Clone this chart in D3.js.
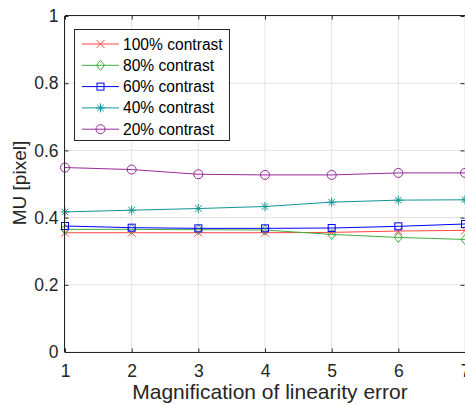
<!DOCTYPE html>
<html>
<head>
<meta charset="utf-8">
<script src="https://cdn.jsdelivr.net/npm/d3@7"></script>
<style>
  html, body { margin: 0; padding: 0; background: #fff; overflow: hidden; }
  svg { display: block; font-family: "Liberation Sans", Arial, sans-serif; }
</style>
</head>
<body>
<svg id="chart" width="465" height="405"></svg>
<script>
// Magnification factors on the x axis
const magnification = [1, 2, 3, 4, 5, 6, 7];

// MU per contrast level
const mu100 = [0.355, 0.355, 0.355, 0.355, 0.356, 0.360, 0.362];
const mu80  = [0.365, 0.365, 0.364, 0.363, 0.350, 0.341, 0.335];
const mu60  = [0.375, 0.370, 0.368, 0.368, 0.369, 0.374, 0.381];
const mu40  = [0.417, 0.422, 0.427, 0.433, 0.446, 0.452, 0.453];
const mu20  = [0.549, 0.543, 0.529, 0.527, 0.527, 0.533, 0.533];

const seriesNames = ["100% contrast", "80% contrast", "60% contrast", "40% contrast", "20% contrast"];
const xTicks = [1, 2, 3, 4, 5, 6, 7];
const yTicks = [0, 0.2, 0.4, 0.6, 0.8, 1];

const series = [
  { name: seriesNames[0], values: mu100, color: "#ff4545", marker: "x" },
  { name: seriesNames[1], values: mu80,  color: "#3fae3f", marker: "diamond" },
  { name: seriesNames[2], values: mu60,  color: "#0000ff", marker: "square" },
  { name: seriesNames[3], values: mu40,  color: "#139595", marker: "star" },
  { name: seriesNames[4], values: mu20,  color: "#9a2a9a", marker: "circle" }
];

const svg = d3.select("#chart");
const plotL = 65, plotR = 465, plotT = 16, plotB = 352;
const axisColor = "#262626";
const fontFam = "Liberation Sans, Arial, sans-serif";

const x = d3.scaleLinear().domain([1, 7]).range([plotL, plotR]);
const y = d3.scaleLinear().domain([0, 1]).range([plotB, plotT]);

// grid
const grid = svg.append("g");
grid.selectAll(".gx").data(xTicks).join("line")
  .attr("x1", d => x(d)).attr("x2", d => x(d))
  .attr("y1", plotT).attr("y2", plotB)
  .attr("stroke", "#e3e3e3").attr("stroke-width", 1);
grid.selectAll(".gy").data(yTicks).join("line")
  .attr("x1", plotL).attr("x2", plotR)
  .attr("y1", d => y(d)).attr("y2", d => y(d))
  .attr("stroke", "#e3e3e3").attr("stroke-width", 1);

// lines and markers
const line = d3.line().x((d, i) => x(magnification[i])).y(d => y(d));

function drawMarker(g, type, cx, cy, color) {
  const s = 4;
  if (type === "x") {
    g.append("path").attr("d", `M${cx - s},${cy - s}L${cx + s},${cy + s}M${cx - s},${cy + s}L${cx + s},${cy - s}`)
      .attr("stroke", color).attr("fill", "none").attr("stroke-width", 1);
  } else if (type === "diamond") {
    g.append("path").attr("d", `M${cx},${cy - 5}L${cx + 4},${cy}L${cx},${cy + 5}L${cx - 4},${cy}Z`)
      .attr("stroke", color).attr("fill", "none").attr("stroke-width", 1);
  } else if (type === "square") {
    g.append("rect").attr("x", cx - 3.5).attr("y", cy - 3.5).attr("width", 7).attr("height", 7)
      .attr("stroke", color).attr("fill", "none").attr("stroke-width", 1);
  } else if (type === "star") {
    const r = 4.5;
    let d = `M${cx - r},${cy}L${cx + r},${cy}M${cx},${cy - r}L${cx},${cy + r}`;
    const k = r * 0.72;
    d += `M${cx - k},${cy - k}L${cx + k},${cy + k}M${cx - k},${cy + k}L${cx + k},${cy - k}`;
    g.append("path").attr("d", d).attr("stroke", color).attr("fill", "none").attr("stroke-width", 1);
  } else if (type === "circle") {
    g.append("circle").attr("cx", cx).attr("cy", cy).attr("r", 4.5)
      .attr("stroke", color).attr("fill", "none").attr("stroke-width", 1);
  }
}

const plot = svg.append("g");
series.forEach(s => {
  plot.append("path").datum(s.values).attr("d", line)
    .attr("fill", "none").attr("stroke", s.color).attr("stroke-width", 1);
  const mg = plot.append("g");
  s.values.forEach((v, i) => drawMarker(mg, s.marker, x(magnification[i]), y(v), s.color));
});

// axes box
const box = svg.append("g").attr("stroke", axisColor).attr("stroke-width", 1).attr("fill", "none");
box.append("line").attr("x1", plotL).attr("x2", plotR).attr("y1", plotB + 0.5).attr("y2", plotB + 0.5);
box.append("line").attr("x1", plotL - 0.5).attr("x2", plotL - 0.5).attr("y1", plotT).attr("y2", plotB);
box.append("line").attr("x1", plotL).attr("x2", plotR).attr("y1", plotT - 0.5).attr("y2", plotT - 0.5);

// x axis ticks (inward), bottom and top
const xAxis = d3.axisBottom(x).tickValues(xTicks).tickSize(-4).tickPadding(12).tickFormat(d3.format("d"));
const gx = svg.append("g").attr("transform", `translate(0,${plotB + 0.5})`).call(xAxis);
gx.select(".domain").remove();
gx.selectAll("line").attr("stroke", axisColor);
gx.selectAll("text").attr("fill", axisColor).attr("font-size", 17.5).attr("font-family", fontFam);

const xTop = d3.axisTop(x).tickValues(xTicks).tickSize(-4).tickFormat("");
const gxt = svg.append("g").attr("transform", `translate(0,${plotT - 0.5})`).call(xTop);
gxt.select(".domain").remove();
gxt.selectAll("line").attr("stroke", axisColor);

// y axis ticks (inward), left and right
const yAxis = d3.axisLeft(y).tickValues(yTicks).tickSize(-4).tickPadding(6).tickFormat(d => d === 0 || d === 1 ? d3.format("d")(d) : d3.format(".1f")(d));
const gy = svg.append("g").attr("transform", `translate(${plotL - 0.5},0)`).call(yAxis);
gy.select(".domain").remove();
gy.selectAll("line").attr("stroke", axisColor);
gy.selectAll("text").attr("fill", axisColor).attr("font-size", 17.5).attr("font-family", fontFam);

const yRight = d3.axisRight(y).tickValues(yTicks).tickSize(-4).tickFormat("");
const gyr = svg.append("g").attr("transform", `translate(${plotR - 0.5},0)`).call(yRight);
gyr.select(".domain").remove();
gyr.selectAll("line").attr("stroke", axisColor);

// axis titles
svg.append("text").attr("x", 270).attr("y", 399).attr("text-anchor", "middle")
  .attr("font-size", 21).attr("fill", axisColor).text("Magnification of linearity error");
svg.append("text").attr("transform", "translate(26,183) rotate(-90)").attr("text-anchor", "middle")
  .attr("font-size", 19).attr("fill", axisColor).text("MU [pixel]");

// legend
const lg = svg.append("g");
lg.append("rect").attr("x", 74.5).attr("y", 29.5).attr("width", 155).attr("height", 111)
  .attr("fill", "#fff").attr("stroke", axisColor).attr("stroke-width", 1);
series.forEach((s, i) => {
  const cy = 44 + i * 21.3;
  lg.append("line").attr("x1", 82).attr("x2", 119).attr("y1", cy).attr("y2", cy)
    .attr("stroke", s.color).attr("stroke-width", 1);
  drawMarker(lg, s.marker, 100.5, cy, s.color);
  lg.append("text").attr("x", 123).attr("y", cy + 5.5).attr("font-size", 15.6)
    .attr("fill", "#000").text(s.name);
});
</script>
</body>
</html>
